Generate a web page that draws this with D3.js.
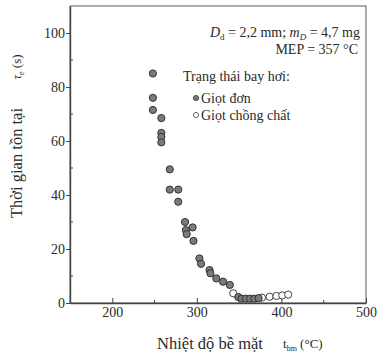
<!DOCTYPE html>
<html>
<head>
<meta charset="utf-8">
<script src="https://cdn.jsdelivr.net/npm/d3@7"></script>
<style>
  body { margin: 0; background: #fff; }
  svg text { font-family: "Liberation Serif", "DejaVu Serif", serif; fill: #2a2a2a; }
</style>
</head>
<body>
<svg id="chart" width="382" height="355"></svg>
<script>
// giot don (filled) - nhiet do be mat, thoi gian ton tai
var singleT = [248, 248, 248, 258, 258, 258, 258, 268, 268, 278, 278, 286, 287, 288, 295, 296,
  303, 305, 315, 316, 323, 331, 339, 349, 353, 358, 363, 368, 373];
var singleTau = [85, 76, 71.5, 68.5, 63, 61.5, 59.5, 49.5, 42, 42, 37.5, 30, 27, 25.5, 28, 23,
  16.5, 14.5, 12.2, 11, 9.1, 7.9, 6.7, 2.2, 1.6, 1.6, 1.6, 1.6, 1.8];
// giot chong chat (open)
var stackT = [343, 377, 386, 394, 401, 408];
var stackTau = [3.6, 2, 2.3, 2.6, 2.8, 3.1];

var xTicks = [200, 300, 400, 500];
var xMinor = [250, 350, 450];
var yTicks = [0, 20, 40, 60, 80, 100];
var yMinor = [10, 30, 50, 70, 90];

var svg = d3.select("#chart");
var AX = "#444";

var x = d3.scaleLinear().domain([150, 500]).range([70, 366]);
var y = d3.scaleLinear().domain([0, 110]).range([303, 6]);

// khung
svg.append("rect").attr("x", 70).attr("y", 6).attr("width", 296).attr("height", 297)
  .attr("fill", "none").attr("stroke", "#777").attr("stroke-width", 1.2);

var gx = svg.append("g").attr("transform", "translate(0,303)")
  .call(d3.axisBottom(x).tickValues(xTicks).tickSizeInner(-5).tickSizeOuter(0).tickPadding(4));
var gy = svg.append("g").attr("transform", "translate(70,0)")
  .call(d3.axisLeft(y).tickValues(yTicks).tickSize(4).tickSizeOuter(0).tickPadding(1));
[gx, gy].forEach(function (g) {
  g.attr("font-family", "Liberation Serif").attr("font-size", 14);
  g.select(".domain").attr("stroke", AX).attr("stroke-width", 1.4);
  g.selectAll(".tick line").attr("stroke", AX);
  g.selectAll(".tick text").attr("fill", "#333");
});

svg.append("g").selectAll("line").data(xMinor).enter().append("line")
  .attr("x1", function (d) { return x(d); }).attr("x2", function (d) { return x(d); })
  .attr("y1", 303).attr("y2", 300).attr("stroke", AX);
svg.append("g").selectAll("line").data(yMinor).enter().append("line")
  .attr("x1", 70).attr("x2", 73)
  .attr("y1", function (d) { return y(d); }).attr("y2", function (d) { return y(d); })
  .attr("stroke", AX);

// diem
svg.append("g").selectAll("circle").data(stackT).enter().append("circle")
  .attr("cx", function (d) { return x(d); })
  .attr("cy", function (d, i) { return y(stackTau[i]); })
  .attr("r", 3.6).attr("fill", "#fff").attr("stroke", "#444").attr("stroke-width", 1);
svg.append("g").selectAll("circle").data(singleT).enter().append("circle")
  .attr("cx", function (d) { return x(d); })
  .attr("cy", function (d, i) { return y(singleTau[i]); })
  .attr("r", 3.6).attr("fill", "#7a7a7a").attr("stroke", "#333").attr("stroke-width", 1);

// chu thich
var t1 = svg.append("text").attr("x", 360).attr("y", 37).attr("text-anchor", "end").style("font-size", "14px");
t1.append("tspan").style("font-style", "italic").text("D");
t1.append("tspan").attr("dy", 3).style("font-size", "9px").text("d");
t1.append("tspan").attr("dy", -3).text(" = 2,2 mm; ");
t1.append("tspan").style("font-style", "italic").text("m");
t1.append("tspan").attr("dy", 3).style("font-size", "9px").style("font-style", "italic").text("D");
t1.append("tspan").attr("dy", -3).text(" = 4,7 mg");
svg.append("text").attr("x", 358).attr("y", 54).attr("text-anchor", "end").style("font-size", "14px").text("MEP = 357 °C");

svg.append("text").attr("x", 183).attr("y", 81).style("font-size", "14px").text("Trạng thái bay hơi:");
svg.append("circle").attr("cx", 196).attr("cy", 98).attr("r", 2.6).attr("fill", "#7a7a7a").attr("stroke", "#333").attr("stroke-width", 0.8);
svg.append("text").attr("x", 201).attr("y", 103).style("font-size", "14px").text("Giọt đơn");
svg.append("circle").attr("cx", 196).attr("cy", 115).attr("r", 2.6).attr("fill", "#fff").attr("stroke", "#444").attr("stroke-width", 0.8);
svg.append("text").attr("x", 201).attr("y", 120).style("font-size", "14px").text("Giọt chồng chất");

// nhan truc
svg.append("text").attr("x", 210).attr("y", 349).attr("text-anchor", "middle").style("font-size", "16.5px").text("Nhiệt độ bề mặt");
var xl = svg.append("text").attr("x", 283).attr("y", 348).style("font-size", "13px");
xl.append("tspan").text("t");
xl.append("tspan").attr("dy", 3).style("font-size", "8px").text("bm");
xl.append("tspan").attr("dy", -3).text(" (°C)");

svg.append("text").attr("transform", "translate(22,163) rotate(-90)").attr("text-anchor", "middle")
  .style("font-size", "16.5px").text("Thời gian tồn tại");
var yl = svg.append("text").attr("transform", "translate(21,67) rotate(-90)").attr("text-anchor", "middle").style("font-size", "13px");
yl.append("tspan").style("font-style", "italic").text("τ");
yl.append("tspan").attr("dy", 3).style("font-size", "8px").text("e");
yl.append("tspan").attr("dy", -3).text(" (s)");
</script>
</body>
</html>
